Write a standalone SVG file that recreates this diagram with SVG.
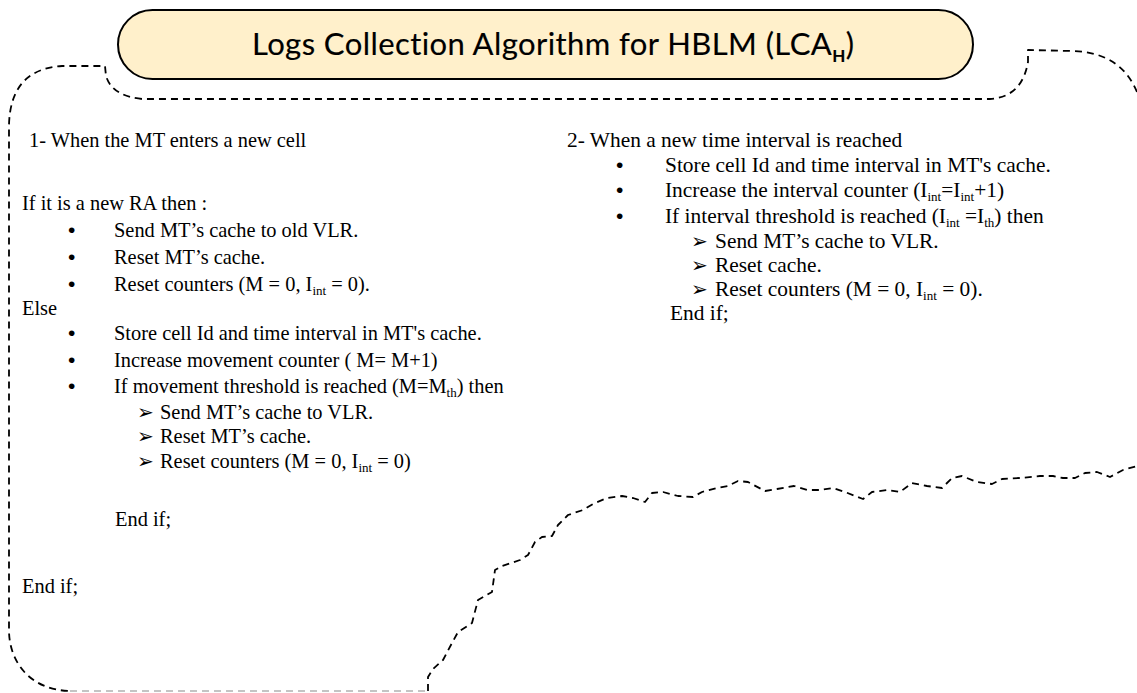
<svg xmlns="http://www.w3.org/2000/svg" width="1137" height="693" viewBox="0 0 1137 693">
  <style>
    .frame { fill: none; stroke: #000; stroke-width: 1.8; stroke-dasharray: 7 5; stroke-linejoin: round; }
    .frame-faint { fill: none; stroke: #c4c4c4; stroke-width: 1.8; stroke-dasharray: 7 5; }
    .title-box { fill: #FFF0CB; stroke: #000; stroke-width: 2; }
    .title { font-family: Lato, "Open Sans", sans-serif; font-size: 31px; fill: #000; stroke: #000; stroke-width: 0.15; font-variant-ligatures: none; }
    .title-sub { font-size: 17px; font-weight: bold; }
    .l { font-family: "Liberation Serif", "Times New Roman", serif; font-size: 20.4px; fill: #000; }
    .r { font-family: "Liberation Serif", "Times New Roman", serif; font-size: 21.4px; fill: #000; }
    .sub { font-size: 13px; }
    .dot { font-family: "Liberation Sans", Arial, sans-serif; font-size: 21px; fill: #000; }
    .arrow { font-family: "DejaVu Sans", sans-serif; font-size: 20px; fill: #000; }
  </style>

  <!-- dashed free-hand frame around the algorithm -->
  <g id="connectors">
    <path class="frame" d="M 1137,92 C 1126,66 1106,52 1072,51 L 1028,50 L 1028,62 Q 1022,97 990,99 L 142,99 Q 112,96 106,76 L 105,66 L 62,66 C 30,68 10,85 9,125 L 9,630 C 9,662 30,690 70,691"/>
    <path class="frame-faint" d="M 70,691 L 426,691"/>
    <polyline class="frame" points="428,691 428,677 433,669 443,660 452,643 458,632 472,623 478,600 492,592 495,570 502,566 520,560 528,555 535,542 542,537 552,536 558,525 568,515 583,510 593,504 607,498 622,496 633,498 645,502 652,493 663,492 678,496 693,497 702,492 717,488 728,486 738,481 748,482 765,491 777,489 794,486 807,490 820,490 833,488 845,492 863,499 872,492 887,490 900,492 912,483 927,486 942,488 952,478 962,476 977,482 992,484 1002,479 1020,478 1040,476 1053,476 1063,478 1075,478 1085,473 1097,472 1110,477 1123,470 1137,466"/>
  </g>

  <!-- title banner -->
  <g id="title">
    <rect class="title-box" x="118" y="10" width="855" height="69" rx="34.5" ry="34.5"/>
    <text class="title" x="252" y="55" textLength="602" lengthAdjust="spacing">Logs Collection Algorithm for HBLM (LCA<tspan class="title-sub" dy="7">H</tspan><tspan dy="-7">)</tspan></text>
  </g>

  <!-- case 1: cell change -->
  <g id="case-cell-change">
    <text class="l" x="29" y="147">1- When the MT enters a new cell</text>
    <text class="l" x="22" y="210">If it is a new RA then :</text>
    <text class="dot" x="68" y="237">•</text>
    <text class="l" x="114" y="237">Send MT’s cache to old VLR.</text>
    <text class="dot" x="68" y="264">•</text>
    <text class="l" x="114" y="264">Reset MT’s cache.</text>
    <text class="dot" x="68" y="291">•</text>
    <text class="l" x="114" y="291">Reset counters (M = 0, I<tspan class="sub" dy="4">int</tspan><tspan dy="-4"> = 0).</tspan></text>
    <text class="l" x="22" y="315">Else</text>
    <text class="dot" x="68" y="340">•</text>
    <text class="l" x="114" y="340">Store cell Id and time interval in MT's cache.</text>
    <text class="dot" x="68" y="367">•</text>
    <text class="l" x="114" y="367">Increase movement counter ( M= M+1)</text>
    <text class="dot" x="68" y="393">•</text>
    <text class="l" x="114" y="393">If movement threshold is reached (M=M<tspan class="sub" dy="4">th</tspan><tspan dy="-4">) then</tspan></text>
    <text class="arrow" x="137" y="419">➢</text>
    <text class="l" x="160" y="419">Send MT’s cache to VLR.</text>
    <text class="arrow" x="137" y="443">➢</text>
    <text class="l" x="160" y="443">Reset MT’s cache.</text>
    <text class="arrow" x="137" y="468">➢</text>
    <text class="l" x="160" y="468">Reset counters (M = 0, I<tspan class="sub" dy="4">int</tspan><tspan dy="-4"> = 0)</tspan></text>
    <text class="l" x="115" y="526">End if;</text>
    <text class="l" x="22" y="593">End if;</text>
  </g>

  <!-- case 2: new time interval -->
  <g id="case-time-interval">
    <text class="r" x="567" y="147">2- When a new time interval is reached</text>
    <text class="dot" x="616" y="172">•</text>
    <text class="r" x="665" y="172">Store cell Id and time interval in MT's cache.</text>
    <text class="dot" x="616" y="197">•</text>
    <text class="r" x="665" y="197">Increase the interval counter (I<tspan class="sub" dy="4">int</tspan><tspan dy="-4">=I</tspan><tspan class="sub" dy="4">int</tspan><tspan dy="-4">+1)</tspan></text>
    <text class="dot" x="616" y="223">•</text>
    <text class="r" x="665" y="223">If interval threshold is reached (I<tspan class="sub" dy="4">int</tspan><tspan dy="-4"> =I</tspan><tspan class="sub" dy="4">th</tspan><tspan dy="-4">) then</tspan></text>
    <text class="arrow" x="691" y="248">➢</text>
    <text class="r" x="715" y="248">Send MT’s cache to VLR.</text>
    <text class="arrow" x="691" y="272">➢</text>
    <text class="r" x="715" y="272">Reset cache.</text>
    <text class="arrow" x="691" y="296">➢</text>
    <text class="r" x="715" y="296">Reset counters (M = 0, I<tspan class="sub" dy="4">int</tspan><tspan dy="-4"> = 0).</tspan></text>
    <text class="r" x="670" y="320">End if;</text>
  </g>
</svg>
